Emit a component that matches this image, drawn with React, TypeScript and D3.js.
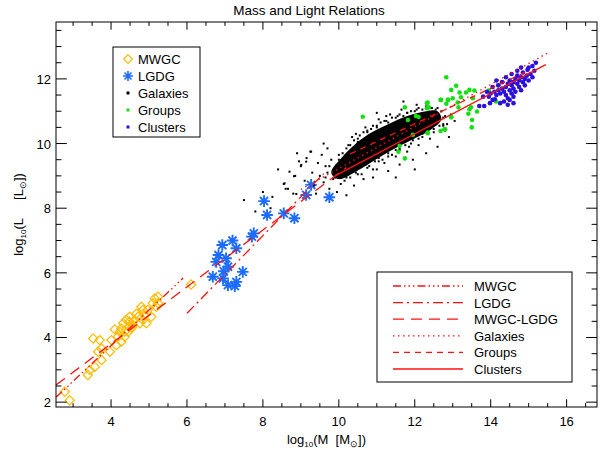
import React from 'react';
import * as d3 from 'd3';

// ---- data (log10 mass, log10 luminosity) ----
const mwgcX = [6.11, 5.15, 5.24, 5.19, 4.97, 4.84, 4.71, 4.84, 4.62, 4.49, 4.32, 4.27, 4.49, 4.36, 4.23, 4.18, 4.36, 4.01, 4.14, 3.97, 3.75, 3.66, 3.53, 3.70, 3.75, 3.57, 3.44, 3.39, 2.78, 2.91, 4.89, 4.76, 4.58, 4.45, 4.67, 4.49, 5.06, 4.93, 4.27, 4.80, 5.24, 5.10, 4.55, 4.40, 4.10];
const mwgcY = [5.64, 5.21, 5.06, 4.95, 4.85, 4.85, 4.64, 4.54, 4.54, 4.49, 4.44, 4.28, 4.33, 4.18, 4.18, 4.02, 4.02, 3.92, 3.76, 3.56, 3.66, 3.56, 3.97, 3.92, 3.30, 3.09, 2.99, 2.84, 2.32, 2.06, 4.69, 4.44, 4.39, 4.18, 4.74, 4.64, 4.64, 4.44, 3.87, 4.95, 5.26, 5.06, 4.30, 4.55, 4.25];

const lgdgX = [6.68, 6.77, 6.83, 6.93, 6.95, 6.97, 7.03, 7.08, 7.08, 7.26, 7.30, 7.30, 7.47, 7.71, 7.76, 8.03, 8.11, 8.55, 8.83, 9.14, 9.27, 9.75, 10.10, 7.20];
const lgdgY = [5.88, 6.34, 6.55, 6.86, 5.83, 6.05, 6.45, 5.62, 6.19, 5.59, 5.72, 6.76, 6.03, 7.12, 7.22, 8.22, 7.79, 7.84, 7.69, 8.41, 8.72, 8.34, 9.18, 7.00];

// dense core of the galaxy cloud (outline of the solid black region)
const coreX = [9.8, 10.1, 10.4, 10.8, 11.3, 11.8, 12.3, 12.6, 12.7, 12.45, 11.9, 11.4, 10.9, 10.4, 10.0];
const coreY = [9.1, 9.6, 9.95, 10.3, 10.6, 10.85, 11.0, 11.0, 10.75, 10.45, 10.1, 9.8, 9.45, 9.1, 8.9];

const galX = [10.0, 10.1, 10.2, 10.3, 10.4, 10.5, 10.55, 10.65, 10.75, 10.85, 10.9, 11.0, 11.1, 11.2, 11.3, 11.4, 11.5, 11.6, 11.7, 11.8, 11.9, 12.0, 12.1, 12.2, 12.3, 12.45, 12.55, 12.7, 10.35, 10.7, 11.05, 11.35, 11.65, 12.05, 10.45, 11.25, 12.75, 12.85,
  9.9, 10.05, 10.2, 10.35, 10.45, 10.55, 10.7, 10.8, 10.95, 11.05, 11.15, 11.3, 11.4, 11.5, 11.6, 11.75, 11.85, 11.95, 12.1, 12.2, 12.35, 12.5, 12.65, 12.75, 10.6, 10.9, 11.2, 11.5, 11.8, 12.1, 12.4, 10.3, 11.0, 12.8,
  10.0, 10.25, 10.5, 10.75, 11.0, 11.25, 11.55, 11.8, 12.05, 12.4, 12.6, 10.2, 10.5, 10.75, 11.05, 11.3, 11.6, 11.9, 12.2, 12.5, 12.75, 12.8, 9.7, 9.75, 9.65,
  8.0, 8.25, 8.4, 8.55, 8.6, 8.7, 8.8, 8.85, 8.95, 9.0, 9.1, 9.15, 9.25, 9.3, 9.35, 9.45, 9.5, 9.55, 9.6, 9.65, 9.7, 9.75, 9.8, 9.85, 9.95, 10.05, 10.15, 10.4, 10.65, 10.9, 11.3, 11.6, 11.95, 12.3, 12.6, 12.9, 13.05, 7.5, 7.8, 8.2, 9.4, 10.2, 8.9, 9.6, 11.5, 12.0, 8.82, 8.57, 8.66, 8.88, 9.01, 9.27, 9.14, 11.0, 11.7, 12.95];
const galY = [9.5, 9.7, 9.85, 9.95, 10.1, 10.05, 10.25, 10.35, 10.35, 10.45, 10.55, 10.5, 10.65, 10.7, 10.65, 10.8, 10.8, 10.9, 10.85, 10.95, 11.0, 11.0, 11.1, 11.05, 11.15, 11.1, 11.05, 11.0, 10.2, 10.5, 10.75, 10.9, 11.05, 11.2, 10.3, 10.85, 10.8, 10.6,
  8.95, 9.0, 9.1, 9.15, 9.1, 9.25, 9.35, 9.3, 9.45, 9.55, 9.5, 9.7, 9.65, 9.8, 9.85, 9.95, 9.9, 10.1, 10.15, 10.3, 10.35, 10.45, 10.55, 10.6, 9.05, 9.2, 9.4, 9.6, 9.75, 9.95, 10.15, 8.95, 9.2, 10.4,
  9.65, 9.95, 10.15, 10.4, 10.55, 10.7, 10.85, 10.95, 11.05, 11.1, 11.1, 8.95, 9.05, 9.25, 9.45, 9.6, 9.8, 10.0, 10.2, 10.35, 10.55, 10.85, 9.1, 9.3, 8.95,
  8.5, 8.35, 9.2, 8.75, 8.6, 9.13, 8.45, 9.0, 9.45, 9.3, 8.85, 9.55, 9.75, 9.1, 8.7, 9.4, 9.0, 9.65, 8.8, 9.3, 9.85, 8.6, 9.5, 8.9, 8.5, 8.75, 8.85, 8.7, 8.9, 8.95, 9.15, 9.35, 9.5, 9.7, 9.9, 10.2, 10.7, 8.25, 7.9, 8.0, 8.45, 8.4, 9.7, 10.0, 8.95, 9.2, 8.99, 8.77, 8.6, 8.44, 9.34, 9.75, 9.44, 10.95, 11.3, 10.9];

const grpX = [12.83, 13.09, 12.96, 13.18, 13.35, 13.44, 13.57, 12.68, 12.87, 12.83, 12.34, 12.32, 13.13, 13.22, 13.15, 13.48, 13.53, 13.44, 13.64, 13.41, 12.96, 13.51, 12.78, 12.68, 12.34, 14.14, 13.95, 10.63, 11.74, 12.32, 12.37, 12.69, 12.88, 13.0, 11.82, 12.03, 12.1, 11.95, 12.34, 12.8, 11.6, 11.57, 11.74, 12.96, 14.2, 13.5];
const grpY = [12.05, 11.79, 11.66, 11.58, 11.58, 11.66, 11.64, 11.35, 11.35, 11.23, 11.27, 11.09, 11.27, 11.43, 11.12, 11.12, 11.40, 11.06, 10.99, 10.92, 10.81, 10.73, 10.44, 10.39, 10.34, 11.30, 11.64, 10.83, 11.12, 11.25, 11.12, 11.35, 11.35, 11.40, 10.73, 10.85, 10.82, 10.27, 10.32, 10.44, 9.93, 9.75, 9.54, 10.83, 11.80, 10.50];

const clusX = [13.70, 13.83, 13.95, 14.0, 14.05, 14.1, 14.11, 14.15, 14.2, 14.2, 14.25, 14.3, 14.3, 14.35, 14.4, 14.4, 14.45, 14.45, 14.5, 14.5, 14.55, 14.55, 14.6, 14.6, 14.65, 14.65, 14.7, 14.7, 14.75, 14.75, 14.8, 14.8, 14.85, 14.85, 14.9, 14.9, 14.95, 14.97, 15.0, 15.05, 15.1, 15.15, 15.19, 14.35, 14.5, 14.6, 14.25, 14.15, 14.05, 13.9, 14.4, 14.55, 14.7, 14.8, 15.0, 15.1, 14.45, 14.6, 13.8, 13.98];
const clusY = [11.16, 11.16, 11.45, 11.55, 11.35, 11.6, 11.37, 11.5, 11.65, 11.8, 11.55, 11.7, 11.9, 11.6, 11.75, 11.5, 11.4, 11.85, 11.65, 11.95, 11.8, 11.55, 11.9, 11.7, 12.0, 11.6, 11.85, 12.1, 11.75, 11.95, 12.05, 11.65, 11.9, 12.2, 12.0, 11.8, 12.1, 12.28, 11.95, 12.15, 12.05, 12.25, 12.5, 11.3, 11.35, 11.45, 11.25, 11.95, 11.75, 11.6, 12.05, 12.15, 12.25, 12.35, 12.35, 12.4, 11.2, 11.25, 11.45, 11.25];

// fitted relations: end points of each line
const fitNames = ['MWGC', 'LGDG', 'MWGC-LGDG', 'Galaxies', 'Groups', 'Clusters'];
const fitX0 = [2.55, 6.0, 2.55, 9.0, 10.3, 9.9];
const fitY0 = [2.15, 4.75, 2.53, 8.58, 9.68, 9.0];
const fitX1 = [5.9, 9.6, 10.2, 15.5, 14.9, 15.45];
const fitY1 = [5.84, 9.07, 9.26, 12.8, 12.2, 12.44];
const fitDash = ['8 3 1.5 3 1.5 3 1.5 3', '10 4 2 4', '11 7', '1.5 3.5', '6 5', ''];

const pointNames = ['MWGC', 'LGDG', 'Galaxies', 'Groups', 'Clusters'];

const xMajor = [4, 6, 8, 10, 12, 14, 16];
const yMajor = [2, 4, 6, 8, 10, 12];

const RED = '#ff1010';
const ORANGE = '#ffbb00';
const LBLUE = '#1c6cff';
const GREEN = '#14e014';
const DBLUE = '#2a10dd';
const font = 'Liberation Sans, Arial, sans-serif';

const left = 56, right = 597, top = 22, bottom = 407;

const diamond = (r: number) => `M0,${-r}L${r},0L0,${r}L${-r},0Z`;
const asterisk = (r: number) => {
  const a = r * 0.7;
  return `M${-r},0L${r},0M0,${-r}L0,${r}M${-a},${-a}L${a},${a}M${-a},${a}L${a},${-a}`;
};

const sp = '\u00a0';

export default function App() {
  const x = d3.scaleLinear().domain([2.55, 16.8]).range([left, right]);
  const y = d3.scaleLinear().domain([1.85, 13.76]).range([bottom, top]);

  const xMinor = d3.range(3, 16.8, 0.5).filter(v => !xMajor.includes(v));
  const yMinor = d3.range(2, 13.76, 0.5).filter(v => !yMajor.includes(v));

  const xt = 7.7, yt = 10.8;

  const core = d3.line<number>().x(i => x(coreX[i])).y(i => y(coreY[i])).curve(d3.curveCatmullRomClosed)(coreX.map((_, i) => i));

  return (
    <svg width={602} height={450} style={{ position: 'absolute', left: 0, top: 0, background: '#fff' }} fontFamily={font}>
      <rect width={602} height={450} fill="#fff" />
      {/* title */}
      <text x={309} y={15} textAnchor="middle" fontSize={13.5}>Mass and Light Relations</text>

      {/* points */}
      <g>
        {mwgcX.map((v, i) => (
          <path key={'m' + i} d={diamond(4.6)} transform={`translate(${x(v)},${y(mwgcY[i])})`} fill="none" stroke={ORANGE} strokeWidth={1.2} />
        ))}
        {lgdgX.map((v, i) => (
          <path key={'l' + i} d={asterisk(5.8)} transform={`translate(${x(v)},${y(lgdgY[i])})`} fill="none" stroke={LBLUE} strokeWidth={1.9} />
        ))}
        <path d={core || ''} fill="#000" />
        {galX.map((v, i) => (
          <rect key={'g' + i} x={x(v) - 1} y={y(galY[i]) - 1} width={2} height={2} fill="#000" />
        ))}
        {grpX.map((v, i) => (
          <circle key={'p' + i} cx={x(v)} cy={y(grpY[i])} r={2.3} fill={GREEN} />
        ))}
        {clusX.map((v, i) => (
          <circle key={'c' + i} cx={x(v)} cy={y(clusY[i])} r={2.3} fill={DBLUE} />
        ))}
      </g>

      {/* fitted lines */}
      <g>
        {fitNames.map((n, i) => (
          <line key={n} x1={x(fitX0[i])} y1={y(fitY0[i])} x2={x(fitX1[i])} y2={y(fitY1[i])}
            stroke={RED} strokeWidth={1.3} strokeDasharray={fitDash[i] || undefined} />
        ))}
      </g>

      {/* frame and ticks */}
      <rect x={left} y={top} width={right - left} height={bottom - top} fill="none" stroke="#000" strokeWidth={1} />
      {xMajor.map(v => (
        <g key={'xM' + v}>
          <line x1={x(v)} x2={x(v)} y1={bottom} y2={bottom - xt} stroke="#000" />
          <line x1={x(v)} x2={x(v)} y1={top} y2={top + xt} stroke="#000" />
          <text x={x(v)} y={bottom + 19} textAnchor="middle" fontSize={13}>{v}</text>
        </g>
      ))}
      {xMinor.map(v => (
        <g key={'xm' + v}>
          <line x1={x(v)} x2={x(v)} y1={bottom} y2={bottom - xt / 2} stroke="#000" />
          <line x1={x(v)} x2={x(v)} y1={top} y2={top + xt / 2} stroke="#000" />
        </g>
      ))}
      {yMajor.map(v => (
        <g key={'yM' + v}>
          <line x1={left} x2={left + yt} y1={y(v)} y2={y(v)} stroke="#000" />
          <line x1={right} x2={right - yt} y1={y(v)} y2={y(v)} stroke="#000" />
          <text x={left - 5} y={y(v) + 5} textAnchor="end" fontSize={13}>{v}</text>
        </g>
      ))}
      {yMinor.map(v => (
        <g key={'ym' + v}>
          <line x1={left} x2={left + yt / 2} y1={y(v)} y2={y(v)} stroke="#000" />
          <line x1={right} x2={right - yt / 2} y1={y(v)} y2={y(v)} stroke="#000" />
        </g>
      ))}

      {/* axis titles */}
      <text x={(left + right) / 2} y={444} textAnchor="middle" fontSize={13}>
        log<tspan fontSize={8} dy={3}>10</tspan><tspan dy={-3}>{`(M${sp}${sp}[M`}</tspan><tspan fontSize={9} dy={3}>⊙</tspan><tspan dy={-3}>])</tspan>
      </text>
      <text transform={`translate(23,${(top + bottom) / 2}) rotate(-90)`} textAnchor="middle" fontSize={13}>
        log<tspan fontSize={8} dy={3}>10</tspan><tspan dy={-3}>{`(L${sp}${sp}${sp}${sp}${sp}[L`}</tspan><tspan fontSize={9} dy={3}>⊙</tspan><tspan dy={-3}>])</tspan>
      </text>

      {/* symbol legend */}
      <g>
        <rect x={113} y={47} width={87} height={90} fill="#fff" stroke="#000" />
        {pointNames.map((n, i) => {
          const cy = 59 + i * 17;
          return (
            <g key={n}>
              {i === 0 && <path d={diamond(4.3)} transform={`translate(128,${cy})`} fill="none" stroke={ORANGE} strokeWidth={1.2} />}
              {i === 1 && <path d={asterisk(5)} transform={`translate(128,${cy})`} fill="none" stroke={LBLUE} strokeWidth={1.6} />}
              {i === 2 && <rect x={126.5} y={cy - 1.5} width={3} height={3} fill="#000" />}
              {i === 3 && <rect x={126.5} y={cy - 1.5} width={3} height={3} fill={GREEN} />}
              {i === 4 && <rect x={126.5} y={cy - 1.5} width={3} height={3} fill={DBLUE} />}
              <text x={138} y={cy + 5} fontSize={13}>{n}</text>
            </g>
          );
        })}
      </g>

      {/* line legend */}
      <g>
        <rect x={377} y={272} width={195} height={110} fill="#fff" stroke="#000" />
        {fitNames.map((n, i) => {
          const cy = 286 + i * 16.6;
          return (
            <g key={n}>
              <line x1={393} x2={463} y1={cy} y2={cy} stroke={RED} strokeWidth={1.3} strokeDasharray={fitDash[i] || undefined} />
              <text x={474} y={cy + 5} fontSize={13}>{n}</text>
            </g>
          );
        })}
      </g>
    </svg>
  );
}
